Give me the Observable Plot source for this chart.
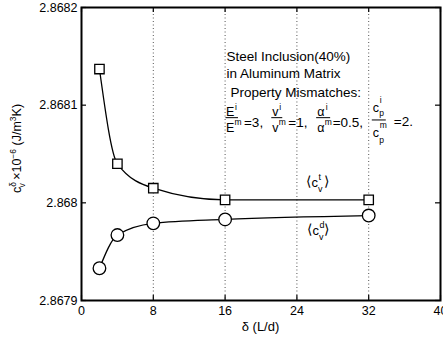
<!DOCTYPE html>
<html>
<head>
<meta charset="utf-8">
<script src="https://cdn.jsdelivr.net/npm/d3@7"></script>
<script src="https://cdn.jsdelivr.net/npm/@observablehq/plot@0.6"></script>
<style>
  html, body { margin: 0; padding: 0; background: white; }
  svg { display: block; }
</style>
</head>
<body>
<div id="chart"></div>
<script>
// ---- data ----
const delta = [2, 4, 8, 16, 32];
const cvT = [2.868137, 2.868040, 2.868015, 2.868003, 2.868003];
const cvD = [2.867933, 2.867967, 2.867979, 2.867983, 2.867987];
const xTicks = [0, 8, 16, 24, 32, 40];
const xGrid = [8, 16, 24, 32];
const yTicks = [2.8679, 2.868, 2.8681, 2.8682];
const xDomain = [0, 40];
const yDomain = [2.8679, 2.8682];

// annotation anchors (data units)
const noteLines = ["Steel Inclusion(40%)", "in Aluminum Matrix", "Property Mismatches:"];
const noteX = [16.2, 16.2, 16.65];
const noteY = [2.868145, 2.8681276, 2.8681082];
const fracX = [16.1, 21.2, 26.2, 32.4];
const fracBarY = 2.8680867;
const ctAnchor = [25.07, 2.8680158];
const cdAnchor = [25.18, 2.8679666];

const tRows = delta.map((d, i) => ({delta: d, v: cvT[i]}));
const dRows = delta.map((d, i) => ({delta: d, v: cvD[i]}));

const W = 443, H = 343, ML = 81, MR = 3, MT = 7, MB = 43;
const PW = W - ML - MR, PH = H - MT - MB;
const FONT = "'Liberation Sans', Arial, Helvetica, sans-serif";

const chart = Plot.plot({
  width: W, height: H,
  marginLeft: ML, marginRight: MR, marginTop: MT, marginBottom: MB,
  x: {domain: xDomain},
  y: {domain: yDomain},
  style: {fontFamily: FONT, fontSize: "12.5px", color: "black", background: "white"},
  marks: [
    Plot.gridX({ticks: xGrid, stroke: "#555", strokeOpacity: 1, strokeDasharray: "1,2.5"}),
    Plot.lineY(tRows, {x: "delta", y: "v", curve: "monotone-x", stroke: "black", strokeWidth: 1.3}),
    Plot.lineY(dRows, {x: "delta", y: "v", curve: "monotone-x", stroke: "black", strokeWidth: 1.3}),
    Plot.dot(tRows, {x: "delta", y: "v", symbol: "square", r: 5.3, fill: "white", stroke: "black", strokeWidth: 1.3}),
    Plot.dot(dRows, {x: "delta", y: "v", r: 6.3, fill: "white", stroke: "black", strokeWidth: 1.3}),
    // inward tick marks
    Plot.tickY(yTicks, {y: d => d, insetRight: PW - 5, stroke: "black", strokeWidth: 1.2}),
    Plot.tickY(yTicks, {y: d => d, insetLeft: PW - 5, stroke: "black", strokeWidth: 1.2}),
    Plot.tickX(xTicks, {x: d => d, insetTop: PH - 5, stroke: "black", strokeWidth: 1.2}),
    Plot.tickX(xTicks, {x: d => d, insetBottom: PH - 5, stroke: "black", strokeWidth: 1.2}),
    Plot.frame({stroke: "black", strokeWidth: 2}),
    Plot.axisY({ticks: yTicks, tickSize: 0, tickPadding: 4, tickFormat: d => String(d), label: null, fontSize: 12.5}),
    Plot.axisX({ticks: xTicks, tickSize: 0, tickPadding: 6, label: null, fontSize: 12.5})
  ]
});

document.getElementById("chart").appendChild(chart);

const sx = chart.scale("x"), sy = chart.scale("y");
const svg = d3.select(chart);
const g = svg.append("g").attr("font-family", FONT).attr("fill", "black");

function txt(x, y, s, size, anchor) {
  return g.append("text").attr("x", x).attr("y", y).attr("font-size", size)
    .attr("text-anchor", anchor || "start").text(s);
}
function bar(x1, x2, y) {
  g.append("line").attr("x1", x1).attr("x2", x2).attr("y1", y).attr("y2", y)
    .attr("stroke", "black").attr("stroke-width", 1);
}

// note lines
noteLines.forEach((s, i) => txt(sx.apply(noteX[i]), sy.apply(noteY[i]), s, 13.5));

// fractions
const BIG = 12.5, SM = 8.5, EQ = 13.5;
{
  const by = sy.apply(fracBarY);
  // E
  let bx = sx.apply(fracX[0]);
  txt(bx + 0.5, by - 1.5, "E", BIG); txt(bx + 9.5, by - 7.5, "i", SM);
  bar(bx, bx + 12.5, by);
  txt(bx + 0.5, by + 14, "E", BIG); txt(bx + 9, by + 7.5, "m", SM);
  txt(bx + 18.5, by + 9, "=3,", EQ);
  // v
  bx = sx.apply(fracX[1]);
  txt(bx + 1, by - 1.5, "v", BIG); txt(bx + 8, by - 7.5, "i", SM);
  bar(bx, bx + 11, by);
  txt(bx + 1, by + 14, "v", BIG); txt(bx + 7.5, by + 7.5, "m", SM);
  txt(bx + 17, by + 9, "=1,", EQ);
  // alpha
  bx = sx.apply(fracX[2]);
  txt(bx + 1, by - 1.5, "α", BIG); txt(bx + 9.5, by - 7.5, "i", SM);
  bar(bx, bx + 14, by);
  txt(bx + 1, by + 14, "α", BIG); txt(bx + 8.5, by + 7.5, "m", SM);
  txt(bx + 16.5, by + 9, "=0.5,", EQ);
  // c_p
  bx = sx.apply(fracX[3]);
  const cy = by + 2.3;
  txt(bx + 1, cy - 8, "c", BIG); txt(bx + 8, cy - 17, "i", SM); txt(bx + 7.5, cy - 3.5, "p", SM);
  bar(bx, bx + 14, cy);
  txt(bx + 1, cy + 17, "c", BIG); txt(bx + 8, cy + 8, "m", SM); txt(bx + 7.5, cy + 23, "p", SM);
  txt(bx + 22, cy + 6.5, "=2.", EQ);
}

// curve labels  <c^t_v>, <c^d_v>
function bracketLabel(a, sup) {
  const x = sx.apply(a[0]), y = sy.apply(a[1]);
  txt(x, y - 0.5, "⟨", 14);
  txt(x + 5.5, y, "c", 13);
  txt(x + 12.5, y - 7, sup, 9);
  txt(x + 12, y + 5, "v", 9);
  txt(x + 17.5, y - 0.5, "⟩", 14);
}
bracketLabel(ctAnchor, "t");
bracketLabel(cdAnchor, "d");

// x label
txt(ML + PW / 2, 331, "δ (L/d)", 13, "middle");

// y label (rotated, with super/subscripts)
{
  const t = svg.append("text").attr("font-family", FONT).attr("font-size", 12.5)
    .attr("transform", `translate(21,${MT + PH / 2 - 5}) rotate(-90)`)
    .attr("text-anchor", "middle").attr("fill", "black");
  t.append("tspan").text("c");
  t.append("tspan").attr("font-size", 8.5).attr("dy", -5).text("δ");
  t.append("tspan").attr("font-size", 8.5).attr("dx", -5.5).attr("dy", 9).text("v");
  t.append("tspan").attr("dy", -4).text(" ×10");
  t.append("tspan").attr("font-size", 8.5).attr("dy", -5).text("−6");
  t.append("tspan").attr("dy", 5).text(" (J/m");
  t.append("tspan").attr("font-size", 8.5).attr("dy", -5).text("3");
  t.append("tspan").attr("dy", 5).text("K)");
}
</script>
</body>
</html>
